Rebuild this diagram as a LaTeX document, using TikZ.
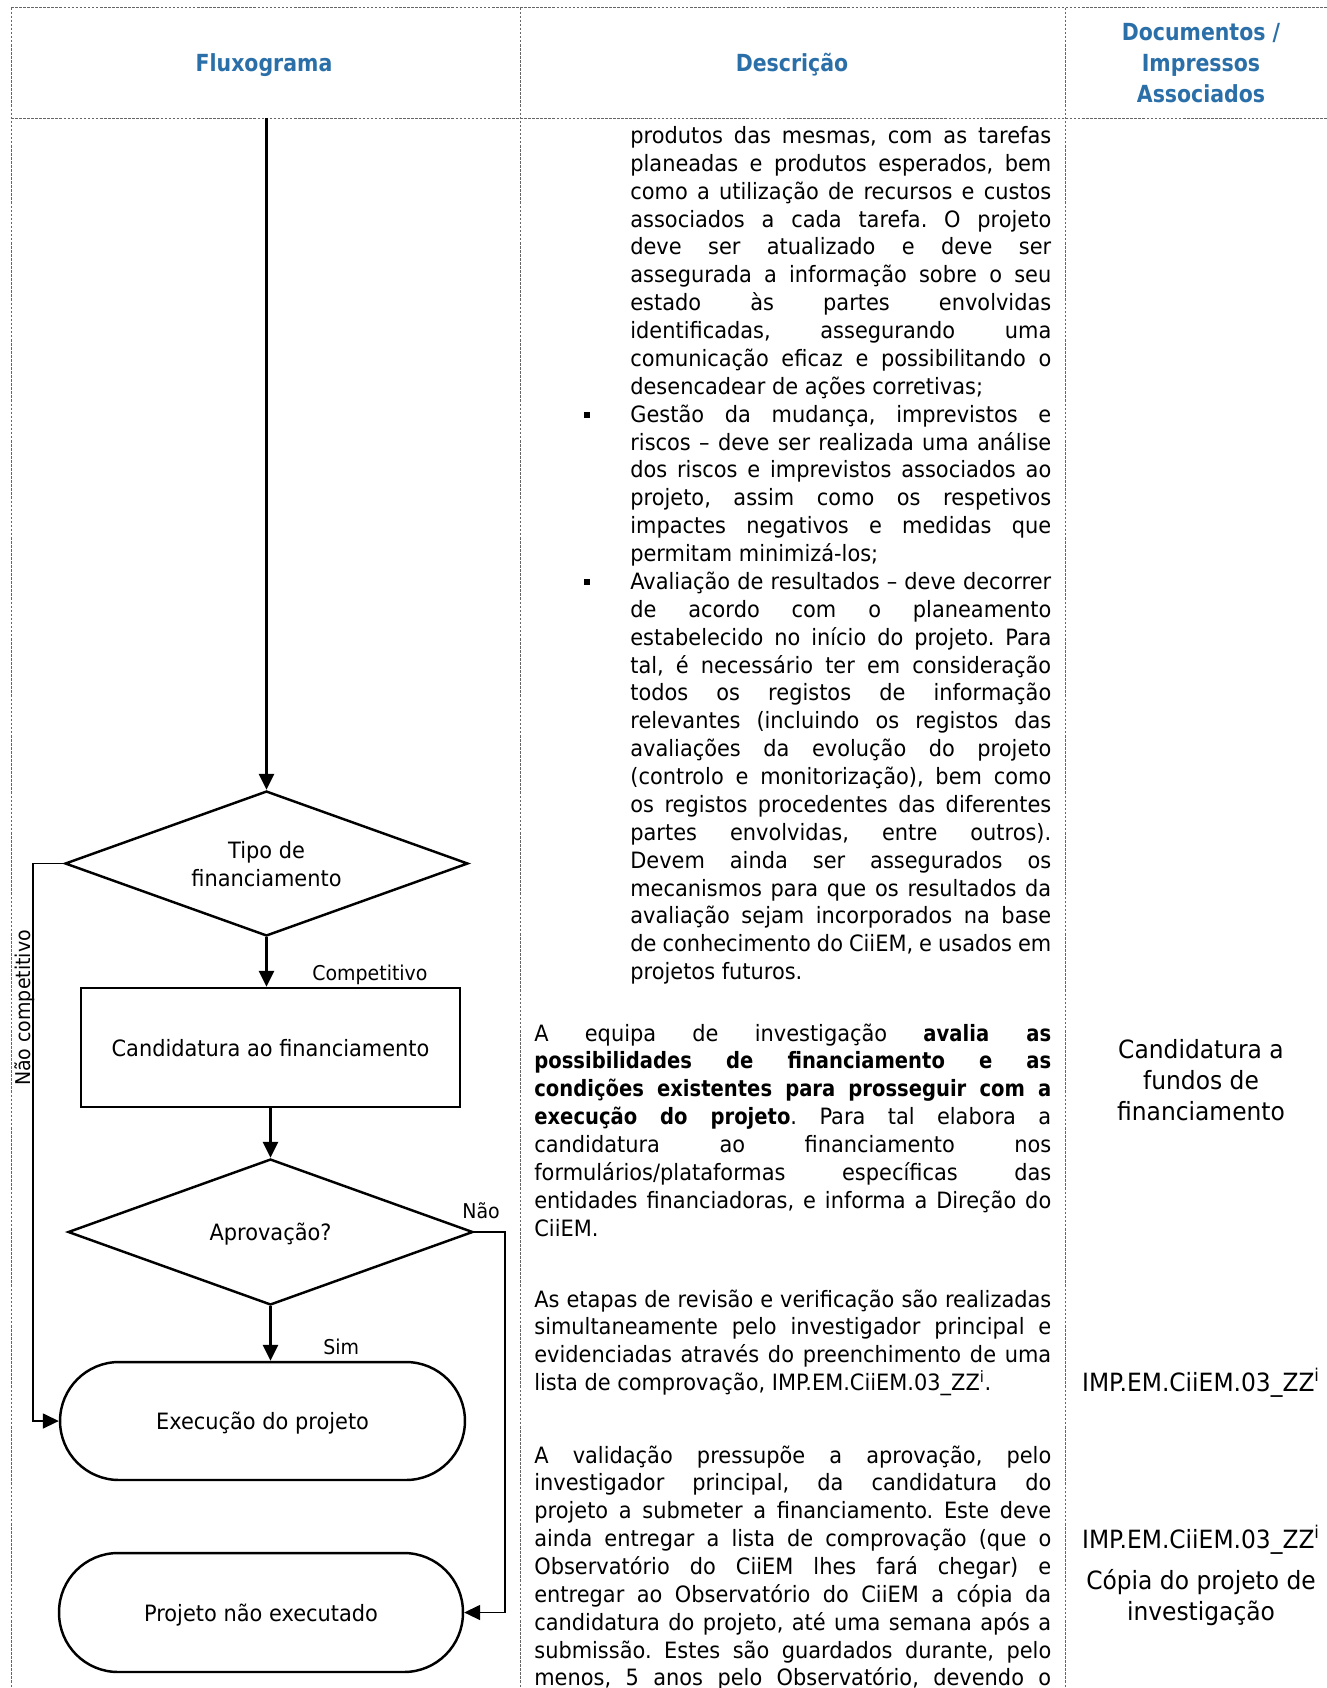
\documentclass[tikz,border=0pt]{standalone}
\usepackage{fontspec}
\setmainfont{DejaVu Sans}[FakeStretch=0.93, BoldFeatures={FakeStretch=0.87}]
\usetikzlibrary{shapes.geometric,arrows.meta}
\definecolor{hdr}{HTML}{2B6FA8}
\newcommand\myfs[2]{\fontsize{#1}{#2}\selectfont}
\frenchspacing
\begin{document}
\frenchspacing
\begin{tikzpicture}[x=0.02cm,y=-0.02cm,
  grid/.style={draw=black!60, line width=0.5pt, dash pattern=on 1.5pt off 0.8pt},
  hdrtxt/.style={font=\myfs{13.4}{17.6}\bfseries, text=hdr, align=center, inner sep=0},
  desc/.style={font=\myfs{12.8}{15.9}, anchor=base west, inner sep=0},
  docs/.style={font=\myfs{14.3}{17.6}, anchor=base, inner sep=0},
  shp/.style={draw, line width=1.4pt, inner sep=0, align=center, text depth=0pt, font=\myfs{12.8}{15.9}},
  dec/.style={shp, diamond, aspect=2.78},
  proc/.style={shp, rectangle},
  term/.style={shp, rectangle, rounded corners=1.18cm},
  lbl/.style={font=\myfs{11.6}{14}, inner sep=0, anchor=base west},
  arr/.style={line width=1.4pt, -{Triangle[length=9pt,width=8.5pt]}},
  tarr/.style={line width=0.7pt, -{Triangle[length=9pt,width=8.5pt]}},
  bul/.style={fill, inner sep=0, minimum size=0.12cm}
]
\useasboundingbox (0,0) rectangle (1327,1688);

% table rules
\draw[grid] (11,7.5) -- (1327,7.5);
\draw[grid] (11,118) -- (1327,118);
\draw[grid] (11,7.5) -- (11,1688);
\draw[grid] (520,7.5) -- (520,1688);
\draw[grid] (1065,7.5) -- (1065,1688);

% headers
\node[hdrtxt] (h1) at (264,65) {Fluxograma};
\node[hdrtxt] (h2) at (792,65) {Descrição};
\node[hdrtxt] (h3) at (1201,63) {Documentos /\\Impressos\\Associados};

% flowchart
\coordinate (top) at (266.5,118);
\node[dec, minimum width=8.06cm, minimum height=2.9cm] (D1) at (266.5,863.5) {Tipo de\\financiamento};
\node[proc, minimum width=7.58cm, minimum height=2.38cm] (R) at (270.5,1047.5) {Candidatura ao financiamento};
\node[dec, minimum width=8.1cm, minimum height=2.92cm] (D2) at (270.5,1232) {Aprovação?};
\node[term, minimum width=8.1cm, minimum height=2.36cm] (T1) at (262.5,1421) {Execução do projeto};
\node[term, minimum width=8.08cm, minimum height=2.38cm] (T2) at (261,1612.5) {Projeto não executado};

\draw[arr] (top) -- (D1.north);
\draw[arr] (D1.south) -- (D1.south |- R.north);
\draw[arr] (R.south) -- (R.south |- D2.north);
\draw[arr] (D2.south) -- (D2.south |- T1.north);

\coordinate (ncl) at (33,0);
\coordinate (nr) at (505,0);
\draw[tarr] (D1.west) -- (D1.west -| ncl) -- (ncl |- T1.west) -- (T1.west);
\draw[tarr] (D2.east) -- (D2.east -| nr) -- (nr |- T2.east) -- (T2.east);

\node[lbl] (lc) at (312,980) {Competitivo};
\node[lbl] (ls) at (323,1354) {Sim};
\node[lbl] (ln) at (462,1218) {Não};
\node[lbl, rotate=90, anchor=base] (lnc) at (31,1008) {Não competitivo};

% description, part A
\foreach \dline [count=\i from 0] in {
  {produtos das mesmas, com as tarefas},
  {planeadas e produtos esperados, bem},
  {como a utilização de recursos e custos},
  {associados a cada tarefa. O projeto},
  {deve ser atualizado e deve ser},
  {assegurada a informação sobre o seu},
  {estado às partes envolvidas},
  {identificadas, assegurando uma},
  {comunicação eficaz e possibilitando o},
  {desencadear de ações corretivas;\hfill},
  {Gestão da mudança, imprevistos e},
  {riscos – deve ser realizada uma análise},
  {dos riscos e imprevistos associados ao},
  {projeto, assim como os respetivos},
  {impactes negativos e medidas que},
  {permitam minimizá-los;\hfill},
  {Avaliação de resultados – deve decorrer},
  {de acordo com o planeamento},
  {estabelecido no início do projeto. Para},
  {tal, é necessário ter em consideração},
  {todos os registos de informação},
  {relevantes (incluindo os registos das},
  {avaliações da evolução do projeto},
  {(controlo e monitorização), bem como},
  {os registos procedentes das diferentes},
  {partes envolvidas, entre outros).},
  {Devem ainda ser assegurados os},
  {mecanismos para que os resultados da},
  {avaliação sejam incorporados na base},
  {de conhecimento do CiiEM, e usados em},
  {projetos futuros.\hfill}}
{\node[desc] (a\i) at (630,{143.5+27.87*\i}) {\makebox[8.42cm][s]{\dline}};}

\node[bul] (b1) at (587,{143.5+27.87*10-7}) {};
\node[bul] (b2) at (587,{143.5+27.87*16-7}) {};

% part B
\foreach \dline [count=\i from 0] in {
  {A equipa de investigação \textbf{avalia as}},
  {\textbf{possibilidades de financiamento e as}},
  {\textbf{condições existentes para prosseguir com a}},
  {\textbf{execução do projeto}. Para tal elabora a},
  {candidatura ao financiamento nos},
  {formulários/plataformas específicas das},
  {entidades financiadoras, e informa a Direção do},
  {CiiEM.\hfill}}
{\node[desc] (bb\i) at (534,{1041+27.87*\i}) {\makebox[10.34cm][s]{\dline}};}

% part C
\foreach \dline [count=\i from 0] in {
  {As etapas de revisão e verificação são realizadas},
  {simultaneamente pelo investigador principal e},
  {evidenciadas através do preenchimento de uma},
  {lista de comprovação, IMP.EM.CiiEM.03\_ZZ\textsuperscript{i}.\hfill}}
{\node[desc] (c\i) at (534,{1307+27.87*\i}) {\makebox[10.34cm][s]{\dline}};}

% part D
\foreach \dline [count=\i from 0] in {
  {A validação pressupõe a aprovação, pelo},
  {investigador principal, da candidatura do},
  {projeto a submeter a financiamento. Este deve},
  {ainda entregar a lista de comprovação (que o},
  {Observatório do CiiEM lhes fará chegar) e},
  {entregar ao Observatório do CiiEM a cópia da},
  {candidatura do projeto, até uma semana após a},
  {submissão. Estes são guardados durante, pelo},
  {menos, 5 anos pelo Observatório, devendo o}}
{\node[desc] (d\i) at (534,{1463+27.87*\i}) {\makebox[10.34cm][s]{\dline}};}

% documents column
\node[docs] (k1) at (1201,1058) {Candidatura a};
\node[docs] (k2) at (1201,1089) {fundos de};
\node[docs] (k3) at (1201,1120) {financiamento};
\node[docs] (k4) at (1201,1391) {IMP.EM.CiiEM.03\_ZZ\textsuperscript{i}};
\node[docs] (k5) at (1201,1548) {IMP.EM.CiiEM.03\_ZZ\textsuperscript{i}};
\node[docs] (k6) at (1201,1589) {Cópia do projeto de};
\node[docs] (k7) at (1201,1620) {investigação};
\end{tikzpicture}
\end{document}
